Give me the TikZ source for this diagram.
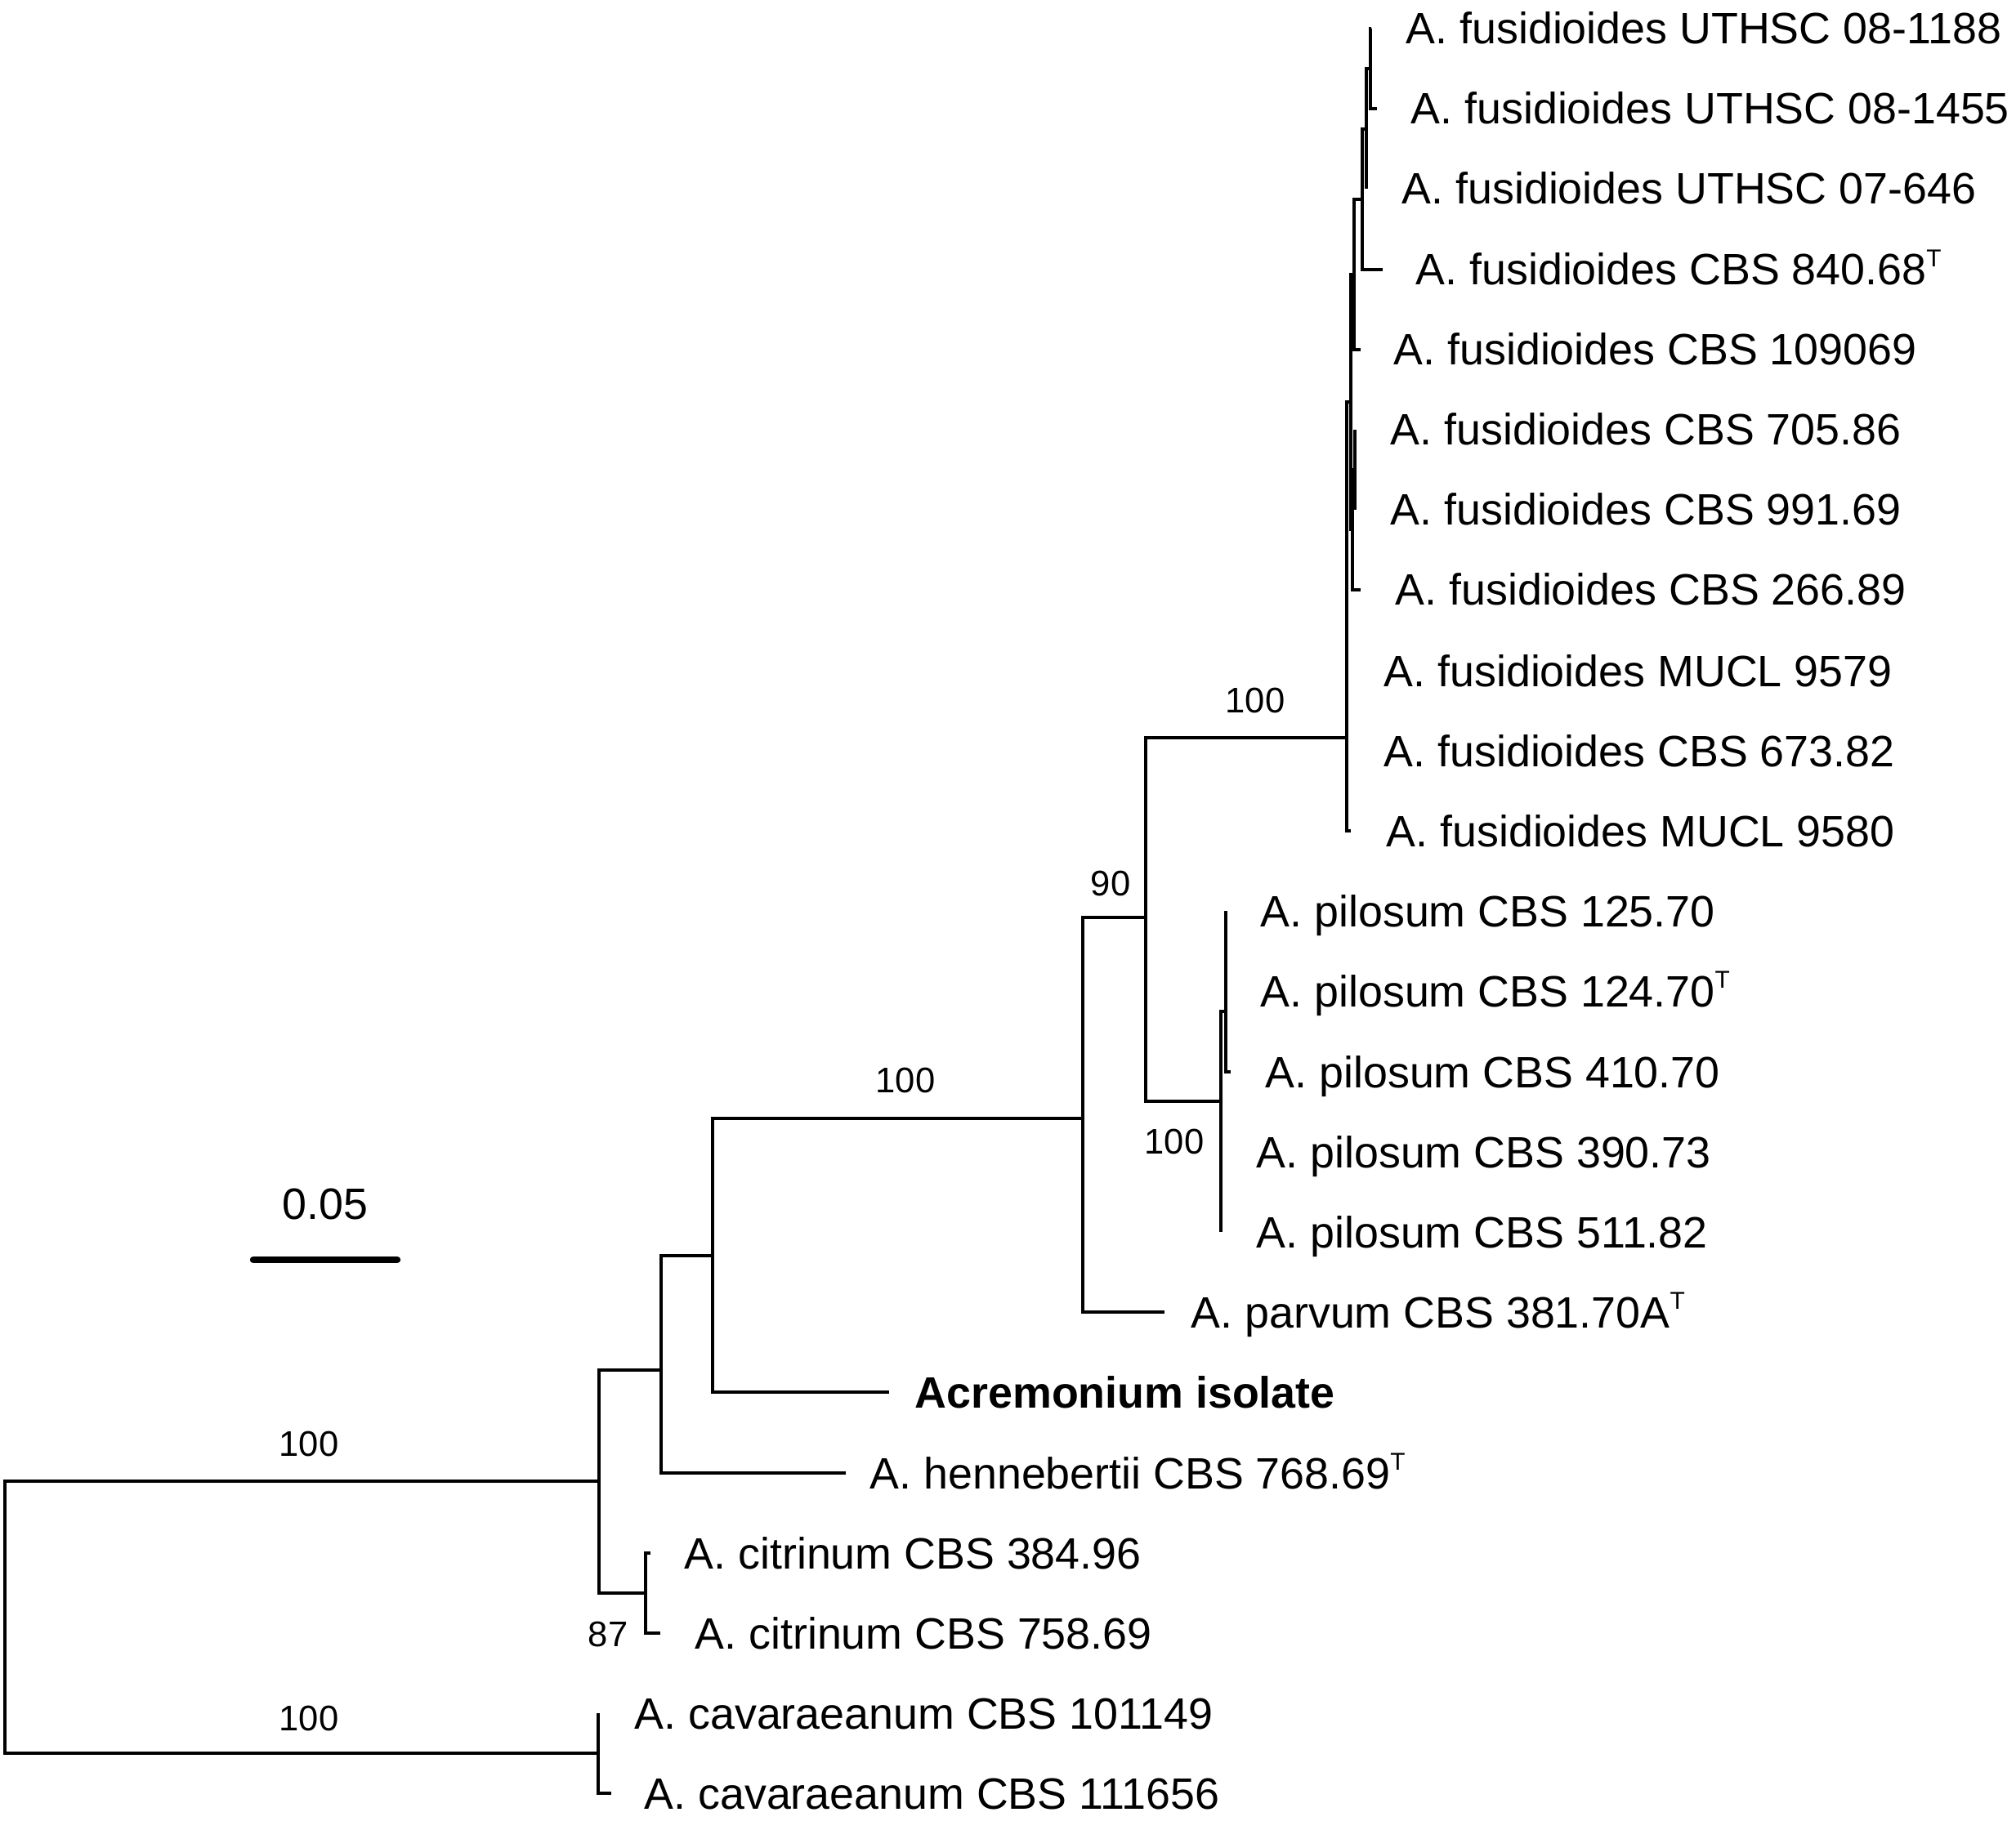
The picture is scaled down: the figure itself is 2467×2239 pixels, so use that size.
\documentclass[tikz,border=0pt]{standalone}
\usepackage{fontspec}
\setmainfont{Liberation Sans}
\usepackage{tikz}
\tikzstyle{branche} = [line width=1.2pt]
\tikzstyle{souche} = [anchor=base west, inner sep=0pt, yshift=-1.9mm, font=\fontsize{15.3}{18}\selectfont]
\tikzstyle{support} = [inner sep=0pt, font=\fontsize{12.4}{15}\selectfont]
\tikzstyle{chiffre} = [inner sep=0pt, font=\fontsize{15.3}{18}\selectfont]
\tikzstyle{echelle} = [line width=2.4pt, line cap=round]
\newcommand{\typus}{\raisebox{0.42em}{\fontsize{8.5}{9}\selectfont T}}

\begin{document}
\begin{tikzpicture}[x=0.1mm, y=-0.1mm]
    \useasboundingbox (0,0) rectangle (2467,2239);

    % noeuds internes
    \coordinate (R) at (6,1980);
    \coordinate (K) at (732,2146);
    \coordinate (A) at (733,1813);
    \coordinate (Ct) at (790,1950);
    \coordinate (B) at (809,1677);
    \coordinate (C) at (872,1537);
    \coordinate (D) at (1325,1369);
    \coordinate (E) at (1402,1123);
    \coordinate (P) at (1494,1348);
    \coordinate (Q) at (1500,1238);
    \coordinate (F) at (1648,903);
    \coordinate (G5) at (1653,492);
    \coordinate (H2) at (1655,648);
    \coordinate (H1) at (1658,575);
    \coordinate (G4) at (1657,336);
    \coordinate (G3) at (1667,244);
    \coordinate (G2) at (1672,158);
    \coordinate (G1) at (1677,84);

    % extremites
    \coordinate (t0) at (1678,35);
    \coordinate (t1) at (1685,133);
    \coordinate (t2) at (1672,231);
    \coordinate (t3) at (1692,330);
    \coordinate (t4) at (1665,428);
    \coordinate (t5) at (1658,526);
    \coordinate (t6) at (1658,624);
    \coordinate (t7) at (1665,722);
    \coordinate (t8) at (1648,821);
    \coordinate (t9) at (1648,919);
    \coordinate (t10) at (1653,1017);
    \coordinate (t11) at (1500,1115);
    \coordinate (t12) at (1500,1213);
    \coordinate (t13) at (1506,1312);
    \coordinate (t14) at (1494,1410);
    \coordinate (t15) at (1494,1508);
    \coordinate (t16) at (1425,1606);
    \coordinate (t17) at (1088,1704);
    \coordinate (t18) at (1035,1803);
    \coordinate (t19) at (796,1901);
    \coordinate (t20) at (808,1999);
    \coordinate (t21) at (732,2097);
    \coordinate (t22) at (748,2195);

    % souches
    \node (s0) [souche] at (1720,35) {A. fusidioides UTHSC 08-1188};
    \node (s1) [souche] at (1726,133) {A. fusidioides UTHSC 08-1455};
    \node (s2) [souche] at (1715,231) {A. fusidioides UTHSC 07-646};
    \node (s3) [souche] at (1732,330) {A. fusidioides CBS 840.68\typus};
    \node (s4) [souche] at (1705,428) {A. fusidioides CBS 109069};
    \node (s5) [souche] at (1701,526) {A. fusidioides CBS 705.86};
    \node (s6) [souche] at (1701,624) {A. fusidioides CBS 991.69};
    \node (s7) [souche] at (1707,722) {A. fusidioides CBS 266.89};
    \node (s8) [souche] at (1693,821) {A. fusidioides MUCL 9579};
    \node (s9) [souche] at (1693,919) {A. fusidioides CBS 673.82};
    \node (s10) [souche] at (1696,1017) {A. fusidioides MUCL 9580};
    \node (s11) [souche] at (1542,1115) {A. pilosum CBS 125.70};
    \node (s12) [souche] at (1542,1213) {A. pilosum CBS 124.70\typus};
    \node (s13) [souche] at (1548,1312) {A. pilosum CBS 410.70};
    \node (s14) [souche] at (1537,1410) {A. pilosum CBS 390.73};
    \node (s15) [souche] at (1537,1508) {A. pilosum CBS 511.82};
    \node (s16) [souche] at (1457,1606) {A. parvum CBS 381.70A\typus};
    \node (s17) [souche] at (1119,1704) {\textbf{Acremonium isolate}};
    \node (s18) [souche] at (1064,1803) {A. hennebertii CBS 768.69\typus};
    \node (s19) [souche] at (837,1901) {A. citrinum CBS 384.96};
    \node (s20) [souche] at (850,1999) {A. citrinum CBS 758.69};
    \node (s21) [souche] at (776,2097) {A. cavaraeanum CBS 101149};
    \node (s22) [souche] at (788,2195) {A. cavaraeanum CBS 111656};

    % branches
    \draw[branche] (R) |- (A);
    \draw[branche] (R) |- (K);
    \draw[branche] (K) |- (t21);
    \draw[branche] (K) |- (t22);
    \draw[branche] (A) |- (B);
    \draw[branche] (A) |- (Ct);
    \draw[branche] (Ct) |- (t19);
    \draw[branche] (Ct) |- (t20);
    \draw[branche] (B) |- (C);
    \draw[branche] (B) |- (t18);
    \draw[branche] (C) |- (D);
    \draw[branche] (C) |- (t17);
    \draw[branche] (D) |- (E);
    \draw[branche] (D) |- (t16);
    \draw[branche] (E) |- (F);
    \draw[branche] (E) |- (P);
    \draw[branche] (P) |- (Q);
    \draw[branche] (P) |- (t14);
    \draw[branche] (P) |- (t15);
    \draw[branche] (Q) |- (t11);
    \draw[branche] (Q) |- (t12);
    \draw[branche] (Q) |- (t13);
    \draw[branche] (F) |- (G5);
    \draw[branche] (F) |- (t8);
    \draw[branche] (F) |- (t9);
    \draw[branche] (F) |- (t10);
    \draw[branche] (G5) |- (G4);
    \draw[branche] (G5) |- (H2);
    \draw[branche] (H2) |- (H1);
    \draw[branche] (H2) |- (t7);
    \draw[branche] (H1) |- (t5);
    \draw[branche] (H1) |- (t6);
    \draw[branche] (G4) |- (G3);
    \draw[branche] (G4) |- (t4);
    \draw[branche] (G3) |- (G2);
    \draw[branche] (G3) |- (t3);
    \draw[branche] (G2) |- (G1);
    \draw[branche] (G2) |- (t2);
    \draw[branche] (G1) |- (t0);
    \draw[branche] (G1) |- (t1);

    % valeurs de bootstrap
    \node (b1) [support] at (378,1767) {100};
    \node (b2) [support] at (378,2103) {100};
    \node (b3) [support] at (1108,1322) {100};
    \node (b4) [support] at (1359,1081) {90};
    \node (b5) [support] at (1536,857) {100};
    \node (b6) [support] at (1437,1397) {100};
    \node (b7) [support] at (744,2000) {87};

    % echelle
    \coordinate (e1) at (310,1542);
    \coordinate (e2) at (486,1542);
    \draw[echelle] (e1) -- (e2);
    \node (e0) [chiffre] at (398,1474) {0.05};

\end{tikzpicture}
\end{document}
